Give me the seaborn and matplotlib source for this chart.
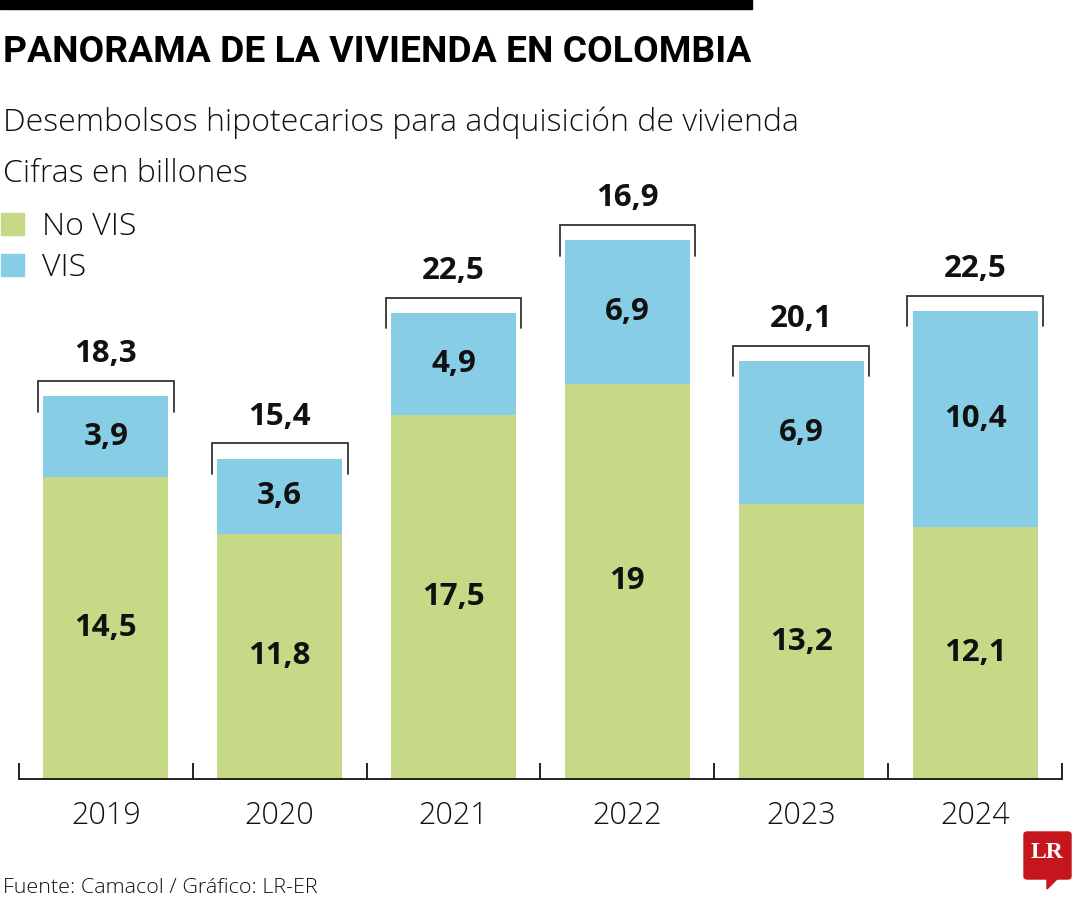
import numpy as np
import pandas as pd
import matplotlib
matplotlib.use('Agg')
import matplotlib.pyplot as plt
import seaborn as sns
from matplotlib.patches import Rectangle, Polygon, FancyBboxPatch

# Data (billions of pesos)
years = ['2019', '2020', '2021', '2022', '2023', '2024']
no_vis = [14.5, 11.8, 17.5, 19.0, 13.2, 12.1]
vis = [3.9, 3.6, 4.9, 6.9, 6.9, 10.4]
no_vis_labels = ['14,5', '11,8', '17,5', '19', '13,2', '12,1']
vis_labels = ['3,9', '3,6', '4,9', '6,9', '6,9', '10,4']
total_labels = ['18,3', '15,4', '22,5', '16,9', '20,1', '22,5']

GREEN = '#c5d987'
BLUE = '#87cde6'
INK = '#111111'

sns.set_theme(style='white')
plt.rcParams['font.family'] = ['Open Sans', 'DejaVu Sans']

df = pd.DataFrame({'year': years, 'no_vis': no_vis, 'vis': vis})
df['total'] = df['no_vis'] + df['vis']

W, H = 1080, 900
fig = plt.figure(figsize=(W / 100, H / 100), dpi=100)


def px(x, y):
    # pixel position (from top-left) -> figure fraction
    return x / W, 1 - y / H


def fit_width(t, target):
    fig.canvas.draw()
    w = t.get_window_extent().width
    t.set_fontsize(t.get_fontsize() * target / w)


# Axes: baseline at y=779 px, 30 units over 624 px
ax = fig.add_axes([19 / W, 121 / H, 1043 / W, 624 / H])
sns.barplot(data=df, x='year', y='total', color=BLUE, width=0.72, saturation=1,
            errorbar=None, linewidth=0, ax=ax)
sns.barplot(data=df, x='year', y='no_vis', color=GREEN, width=0.72, saturation=1,
            errorbar=None, linewidth=0, ax=ax)
ax.set_xlim(-0.5, len(years) - 0.5)
ax.set_ylim(0, 30)
ax.set_xlabel('')
ax.set_ylabel('')
ax.set_yticks([])
ax.set_xticks([])
for s in ['top', 'right', 'left']:
    ax.spines[s].set_visible(False)
ax.spines['bottom'].set_color(INK)
ax.spines['bottom'].set_linewidth(1.3)

# separators between categories
ax.vlines(np.arange(len(years) + 1) - 0.5, 0, 0.77, color=INK, lw=1.3, clip_on=False)

for i, yr in enumerate(years):
    nv, v = no_vis[i], vis[i]
    tot = nv + v
    ax.text(i, nv / 2, no_vis_labels[i], ha='center', va='center',
            fontsize=22.5, fontweight='bold', color=INK)
    ax.text(i, nv + v / 2, vis_labels[i], ha='center', va='center',
            fontsize=22.5, fontweight='bold', color=INK)
    # bracket over the bar
    top = tot + 0.74
    ax.plot([i - 0.39, i - 0.39, i + 0.39, i + 0.39],
            [tot - 0.74, top, top, tot - 0.74], color='#333333', lw=1.3,
            clip_on=False, solid_joinstyle='miter')
    ax.text(i, top + 0.9, total_labels[i], ha='center', va='baseline',
            fontsize=22.5, fontweight='bold', color=INK)
    ax.text(i, -2.16, yr, ha='center', va='baseline', fontsize=22,
            fontweight='light', color=INK, clip_on=False)

# header
fig.patches.append(Rectangle(px(0, 8.5), 752 / W, 8.5 / H, transform=fig.transFigure,
                             color='black', zorder=5))
title = fig.text(*px(3, 62), 'PANORAMA DE LA VIVIENDA EN COLOMBIA', fontsize=28,
                 fontweight='bold', color='black', va='baseline',
                 family=['Roboto', 'Open Sans', 'DejaVu Sans'])
fit_width(title, 748)
sub = fig.text(*px(3, 131), 'Desembolsos hipotecarios para adquisición de vivienda',
               fontsize=22, fontweight='light', color=INK, va='baseline')
fit_width(sub, 794)
fig.text(*px(3, 182), 'Cifras en billones', fontsize=sub.get_fontsize(),
         fontweight='light', color=INK, va='baseline')

# legend
for (lab, col, yb) in [('No VIS', GREEN, 235), ('VIS', BLUE, 276)]:
    fig.patches.append(Rectangle(px(1, yb), 23 / W, 22 / H, transform=fig.transFigure,
                                 color=col))
    fig.text(*px(42, yb), lab, fontsize=sub.get_fontsize(), fontweight='light',
             color=INK, va='baseline')

# footer
foot = fig.text(*px(3, 893), 'Fuente: Camacol / Gráfico: LR-ER', fontsize=14,
                fontweight='light', color=INK, va='baseline')
fit_width(foot, 315)

# LR logo
RED = '#c4161c'
fig.patches.append(FancyBboxPatch(px(1024, 879), 47 / W, 47 / H,
                                  boxstyle='round,pad=0,rounding_size=0.003',
                                  transform=fig.transFigure, color=RED))
fig.patches.append(Polygon([px(1047, 878), px(1058, 878), px(1047, 889)],
                           transform=fig.transFigure, color=RED))
lr = fig.text(*px(1047.5, 853), 'LR', fontsize=20, fontweight='bold', color='white',
              ha='center', va='center', family=['Liberation Serif', 'DejaVu Serif'])
fit_width(lr, 33)

fig.savefig('out.png', dpi=100)
